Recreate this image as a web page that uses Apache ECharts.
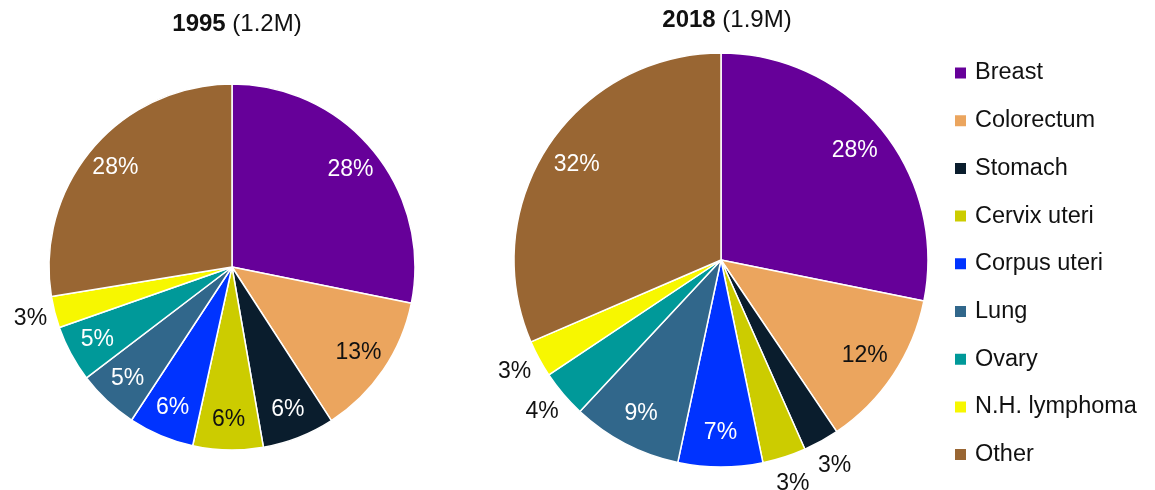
<!DOCTYPE html>
<html>
<head>
<meta charset="utf-8">
<script src="https://cdn.jsdelivr.net/npm/echarts@6/dist/echarts.min.js"></script>
<style>
  html, body { margin: 0; padding: 0; background: #fff; }
  #main { width: 1155px; height: 490px; }
</style>
</head>
<body>
<div id="main"></div>
<script>
// cancer sites (women), share of new cases in %
var sites = ['Breast', 'Colorectum', 'Stomach', 'Cervix uteri', 'Corpus uteri', 'Lung', 'Ovary', 'N.H. lymphoma', 'Other'];
var share1995 = [28.2, 12.7, 6.4, 6.2, 5.8, 5.4, 5.0, 2.8, 27.6];
var share2018 = [28.2, 12.4, 2.8, 3.4, 6.6, 8.6, 3.7, 2.9, 31.5];
var titles = [['1995', '(1.2M)'], ['2018', '(1.9M)']];

// which slices get their label outside the pie
var outside1995 = ['N.H. lymphoma'];
var outside2018 = ['Stomach', 'Cervix uteri', 'Ovary', 'N.H. lymphoma'];

var colors = ['#660099', '#eba55e', '#0a1d2d', '#cccc00', '#0033ff', '#31678b', '#009999', '#f7f700', '#996633'];
var darkText = ['Colorectum', 'Cervix uteri'];
var FONT = '"Liberation Sans", Arial, sans-serif';

var myChart = echarts.init(document.getElementById('main'));

function pctLabel(p) { return Math.round(p.value) + '%'; }

// main pie + two transparent rings that only carry the labels
function pieSeries(values, outside, center, r) {
    var main = {
        type: 'pie', center: center, radius: r, startAngle: 90, clockwise: true,
        silent: true, label: { show: false }, labelLine: { show: false },
        itemStyle: { borderColor: '#fff', borderWidth: 1.5 },
        data: sites.map(function (s, i) {
            return { name: s, value: values[i], itemStyle: { color: colors[i] } };
        })
    };
    function ring(radius, inner) {
        return {
            type: 'pie', center: center, radius: radius, startAngle: 90, clockwise: true,
            silent: true, labelLine: { show: false }, avoidLabelOverlap: false,
            itemStyle: { color: 'transparent', borderWidth: 0 },
            data: sites.map(function (s, i) {
                var isOut = outside.indexOf(s) >= 0;
                var show = inner ? !isOut : isOut;
                var col = inner ? (darkText.indexOf(s) >= 0 ? '#111' : '#fff') : '#111';
                return {
                    name: s, value: values[i],
                    label: {
                        show: show, position: 'inside', formatter: pctLabel,
                        color: col, fontSize: 23, fontFamily: FONT, textBorderWidth: 0
                    }
                };
            })
        };
    }
    return [main, ring([r * 0.64, r], true), ring([r * 1.03, r * 1.21], false)];
}

var series = [].concat(
    pieSeries(share1995, outside1995, [232, 267], 183),
    pieSeries(share2018, outside2018, [721, 260], 207)
);

myChart.setOption({
    animation: false,
    title: titles.map(function (t, i) {
        return {
            text: '{b|' + t[0] + '} {n|' + t[1] + '}',
            left: i === 0 ? 232 : 722, top: i === 0 ? 7 : 3, textAlign: 'center',
            textStyle: {
                fontFamily: FONT, fontSize: 24, fontWeight: 'normal', color: '#111',
                rich: {
                    b: { fontFamily: FONT, fontSize: 24, fontWeight: 'bold', color: '#111' },
                    n: { fontFamily: FONT, fontSize: 24, fontWeight: 'normal', color: '#111' }
                }
            }
        };
    }),
    legend: {
        orient: 'vertical', left: 953, top: 61, padding: 0,
        icon: 'rect', itemWidth: 13, itemHeight: 13, itemGap: 23.7,
        selectedMode: false,
        textStyle: { fontFamily: FONT, fontSize: 23.5, color: '#111', lineHeight: 24, padding: [0, 0, 0, 3] },
        data: sites.map(function (s, i) { return { name: s, itemStyle: { color: colors[i] } }; })
    },
    series: series
});
</script>
</body>
</html>
